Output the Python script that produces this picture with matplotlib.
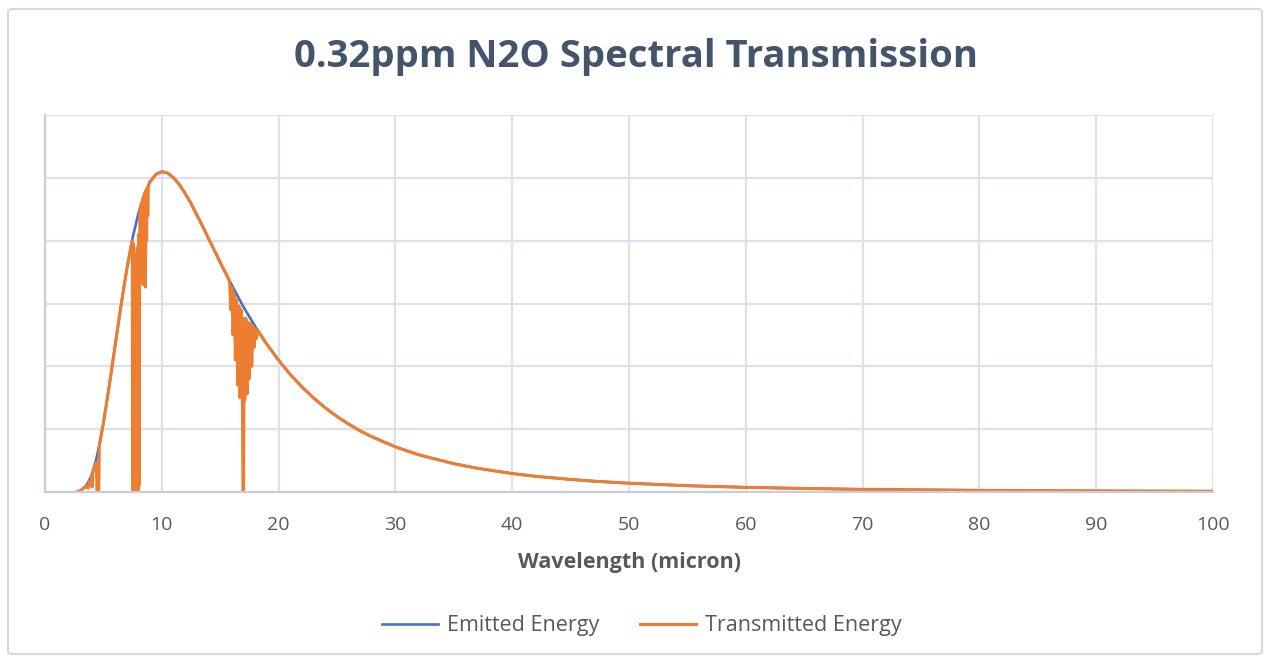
import matplotlib
import matplotlib.pyplot as plt
from matplotlib.patches import FancyBboxPatch
matplotlib.rcParams.update({'font.family': ['Open Sans', 'DejaVu Sans']})

# Emitted energy (W/m2/micron)
em_wl = [2.8, 3.0, 3.5, 3.9, 4.0, 4.2, 4.4, 4.6, 5.0, 5.5, 6.0, 6.5, 7.0, 7.5, 8.0,
         8.5, 9.0, 9.5, 10.0, 10.5, 11.0, 11.5, 12.0, 12.5, 13.0, 13.5, 14.0, 14.5,
         15.0, 16.0, 17.0, 18.0, 19.0, 20.0, 21.0, 22.0, 23.0, 24.0, 25.0, 26.0, 27.0,
         28.0, 30.0, 32.0, 35.0, 37.0, 40.0, 42.0, 45.0, 47.0, 50.0, 55.0, 60.0, 65.0,
         70.0, 75.0, 80.0, 85.0, 90.0, 95.0, 100.0]
em_val = [0.04, 0.09, 0.45, 1.13, 1.37, 1.95, 2.66, 3.49, 5.48, 8.44, 11.63, 14.79, 17.70,
          20.21, 22.19, 23.68, 24.70, 25.28, 25.49, 25.38, 25.01, 24.47, 23.76, 22.96,
          22.05, 21.14, 20.17, 19.23, 18.27, 16.45, 14.72, 13.16, 11.75, 10.48, 9.35,
          8.36, 7.48, 6.69, 6.01, 5.40, 4.86, 4.39, 3.59, 2.96, 2.25, 1.89, 1.47, 1.25,
          1.00, 0.86, 0.70, 0.50, 0.37, 0.28, 0.21, 0.17, 0.13, 0.105, 0.085, 0.070,
          0.058]

# Transmitted energy, with the N2O absorption bands near 4.5, 7.8, 8.6 and 17 micron
tr_wl = [2.8, 3.0, 3.5, 3.7, 3.8, 3.9, 4.0, 4.05, 4.1, 4.2, 4.3, 4.4, 4.45, 4.5, 4.55,
         4.6, 4.65, 4.7, 5.0, 5.5, 6.0, 6.5, 7.0, 7.4,
         7.48, 7.5, 7.54, 7.57, 7.6, 7.63, 7.66, 7.7, 7.74, 7.78, 7.82, 7.86, 7.9, 7.94,
         7.98, 8.02, 8.05, 8.1, 8.15, 8.2, 8.25, 8.3, 8.35, 8.4, 8.45, 8.5, 8.55, 8.6,
         8.65, 8.7, 8.75, 8.8, 8.85, 9.0, 9.5, 10.0, 10.5, 11.0, 11.5, 12.0, 12.5,
         13.0, 13.5, 14.0, 14.5, 15.0,
         15.8, 15.9, 16.0, 16.1, 16.2, 16.3, 16.4, 16.5, 16.6, 16.7, 16.8, 16.9, 16.95,
         17.0, 17.05, 17.1, 17.2, 17.3, 17.4, 17.5, 17.6, 17.7, 17.8, 17.9, 18.0, 18.1,
         18.2, 19.0, 20.0, 21.0, 22.0, 23.0, 24.0, 25.0, 26.0, 27.0, 28.0, 30.0, 32.0,
         35.0, 37.0, 40.0, 42.0, 45.0, 47.0, 50.0, 55.0, 60.0, 65.0, 70.0, 75.0, 80.0,
         85.0, 90.0, 95.0, 100.0]
tr_val = [0.04, 0.09, 0.45, 0.3, 0.85, 0.5, 1.3, 0.4, 1.5, 1.95, 2.29, 2.3, 0.0, 0.0, 0.6,
          0.0, 3.6, 3.94, 5.48, 8.44, 11.63, 14.79, 17.70, 19.73,
          20.0, 0.0, 19.8, 0.0, 19.5, 0.0, 19.0, 0.0, 18.5, 0.0, 0.0, 18.0, 0.0, 19.5,
          0.0, 20.5, 0.5, 18.0, 22.6, 17.5, 23.0, 19.0, 23.3, 16.5, 23.5, 21.0, 23.8,
          16.3, 24.0, 20.0, 24.2, 22.0, 24.4, 24.70, 25.28, 25.49, 25.38, 25.01, 24.47,
          23.76, 22.96, 22.05, 21.14, 20.17, 19.23, 18.27,
          16.8, 14.5, 16.3, 12.5, 15.8, 10.5, 15.3, 8.5, 14.8, 7.5, 14.5,
          8.0, 0.0, 0.0, 13.8, 7.3, 13.8, 7.8, 13.5, 9.0, 13.4, 10.0, 13.2, 11.5, 13.0,
          12.2, 12.86, 11.75, 10.48, 9.35, 8.36, 7.48, 6.69, 6.01, 5.40, 4.86, 4.39,
          3.59, 2.96, 2.25, 1.89, 1.47, 1.25, 1.00, 0.86, 0.70, 0.50, 0.37, 0.28, 0.21,
          0.17, 0.13, 0.105, 0.085, 0.070, 0.058]

x_ticks = [0, 10, 20, 30, 40, 50, 60, 70, 80, 90, 100]

fig = plt.figure(figsize=(12.71, 6.64), dpi=100)
ax = fig.add_axes([45/1271, 1-492/664, (1213-45)/1271, (492-115)/664])

ax.plot(em_wl, em_val, color='#4472c4', linewidth=1.9, label='Emitted Energy')
ax.plot(tr_wl, tr_val, color='#ed7d31', linewidth=2.2, label='Transmitted Energy')

ax.set_xlim(0, 100)
ax.set_ylim(0, 30)
ax.set_xticks(x_ticks)
ax.set_yticks([0, 5, 10, 15, 20, 25, 30])
ax.set_yticklabels([])
ax.tick_params(axis='y', length=0)
ax.tick_params(axis='x', length=0, pad=17, labelsize=14, labelcolor='#595959')
ax.set_axisbelow(True)
ax.grid(True, color='#dde2ea', linewidth=1.6)
for s in ['top', 'right']:
    ax.spines[s].set_visible(False)
ax.spines['left'].set_color('#c9ced6')
ax.spines['bottom'].set_color('#c9ced6')
ax.spines['left'].set_linewidth(1.6)
ax.spines['bottom'].set_linewidth(1.6)

ax.set_xlabel('Wavelength (micron)', fontsize=15.5, fontweight='bold',
              color='#595959', labelpad=13)
fig.text(0.5, 1-57/664, '0.32ppm N2O Spectral Transmission', ha='center',
         va='center', fontsize=27.5, fontweight='bold', color='#44546a')

fig.legend(loc='center', bbox_to_anchor=(0.505, 1-626/664), ncol=2, frameon=False,
           fontsize=15.5, labelcolor='#595959', handlelength=2.6, columnspacing=1.9,
           handletextpad=0.4)

fig.patches.append(FancyBboxPatch((8/1271, 10/664), 1254/1271, 645/664,
                                  boxstyle='round,pad=0,rounding_size=0.004',
                                  transform=fig.transFigure, fill=False,
                                  edgecolor='#d9d9d9', linewidth=1.5))

plt.savefig('out.png', dpi=100)
